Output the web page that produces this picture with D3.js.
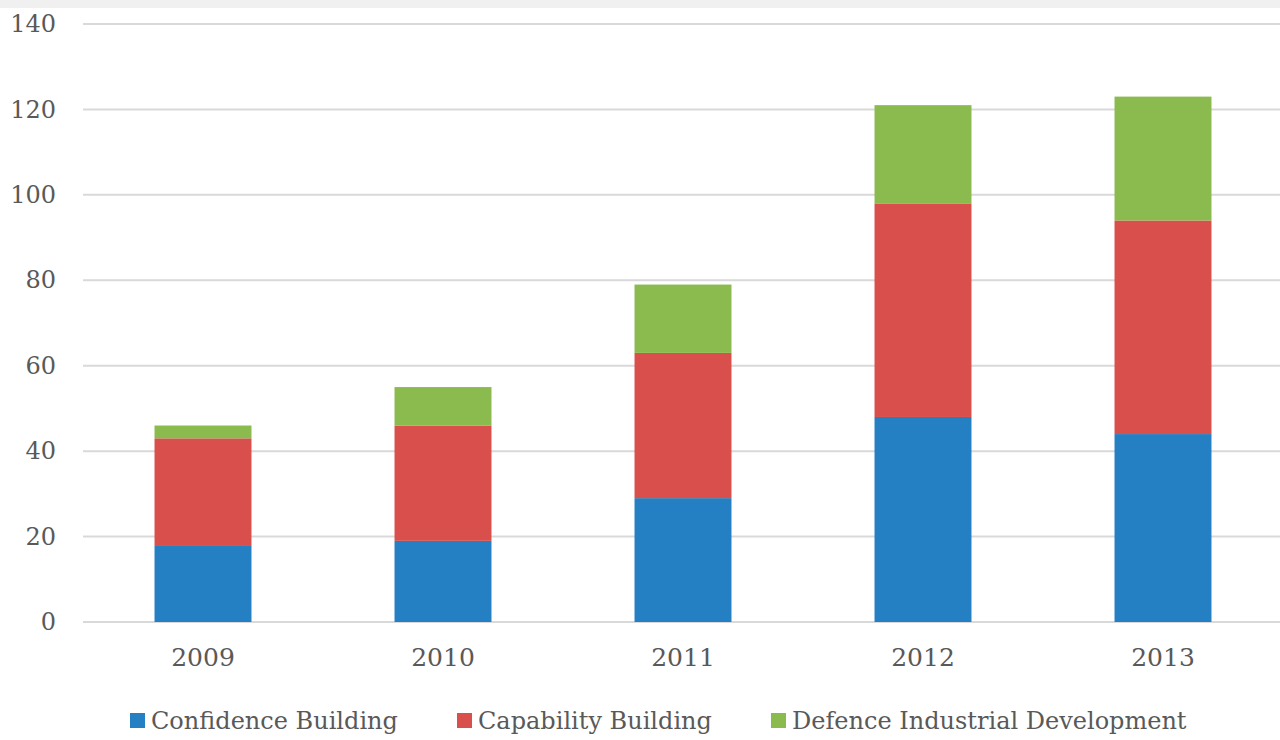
<!DOCTYPE html>
<html><head><meta charset="utf-8">
<script src="https://cdn.jsdelivr.net/npm/d3@7"></script>
<style>
html,body{margin:0;padding:0;background:#fff;}
svg{display:block;}
</style></head>
<body>
<svg id="chart" width="1280" height="740"></svg>
<script>
const years = ["2009","2010","2011","2012","2013"];
const seriesNames = ["Confidence Building","Capability Building","Defence Industrial Development"];
const confidence = [18, 19, 29, 48, 44];
const capability = [25, 27, 34, 50, 50];
const industrial = [3, 9, 16, 23, 29];
const yTicks = [0, 20, 40, 60, 80, 100, 120, 140];
const colors = ["#2580c3", "#d94f4b", "#8bbb4f"];

const svg = d3.select("#chart");
const font = "'DejaVu Serif', 'Liberation Serif', serif";
svg.append("rect").attr("x",0).attr("y",0).attr("width",1280).attr("height",8).attr("fill","#f0f0f0");

const x = d3.scaleBand().domain(years).range([83, 1283]).paddingInner(0.596).paddingOuter(0.298);
const y = d3.scaleLinear().domain([0, 140]).range([622, 24]);

const table = years.map((yr, i) => ({year: yr, a: confidence[i], b: capability[i], c: industrial[i]}));
const stack = d3.stack().keys(["a","b","c"])(table);

// gridlines
svg.append("g").selectAll("line").data(yTicks).join("line")
  .attr("x1", 83).attr("x2", 1280)
  .attr("y1", d => y(d)).attr("y2", d => y(d))
  .attr("stroke", "#d9d9d9").attr("stroke-width", 2);

// y labels
const yAxis = svg.append("g").attr("transform", "translate(56,0)")
  .call(d3.axisLeft(y).tickValues(yTicks).tickSize(0).tickPadding(0));
yAxis.select(".domain").remove();
yAxis.selectAll("text").attr("font-family", font).attr("font-size", 24).attr("fill", "#595959");

// bars
svg.append("g").selectAll("g").data(stack).join("g")
  .attr("fill", (d, i) => colors[i])
  .selectAll("rect").data(d => d).join("rect")
  .attr("x", d => x(d.data.year))
  .attr("width", x.bandwidth())
  .attr("y", d => y(d[1]))
  .attr("height", d => y(d[0]) - y(d[1]));

// x labels
const xAxis = svg.append("g").attr("transform", "translate(0,648)")
  .call(d3.axisBottom(x).tickSize(0).tickPadding(0));
xAxis.select(".domain").remove();
xAxis.selectAll("text").attr("font-family", font).attr("font-size", 25).attr("fill", "#595959").attr("dy", "0.71em");

// legend
const legendX = [130, 457, 771];
const lg = svg.append("g").selectAll("g").data(seriesNames).join("g")
  .attr("transform", (d, i) => `translate(${legendX[i]},713)`);
lg.append("rect").attr("width", 15).attr("height", 15).attr("fill", (d, i) => colors[i]);
lg.append("text").attr("x", 21).attr("y", 16).text(d => d)
  .attr("font-family", font).attr("font-size", 24).attr("fill", "#595959");
</script>
</body></html>
